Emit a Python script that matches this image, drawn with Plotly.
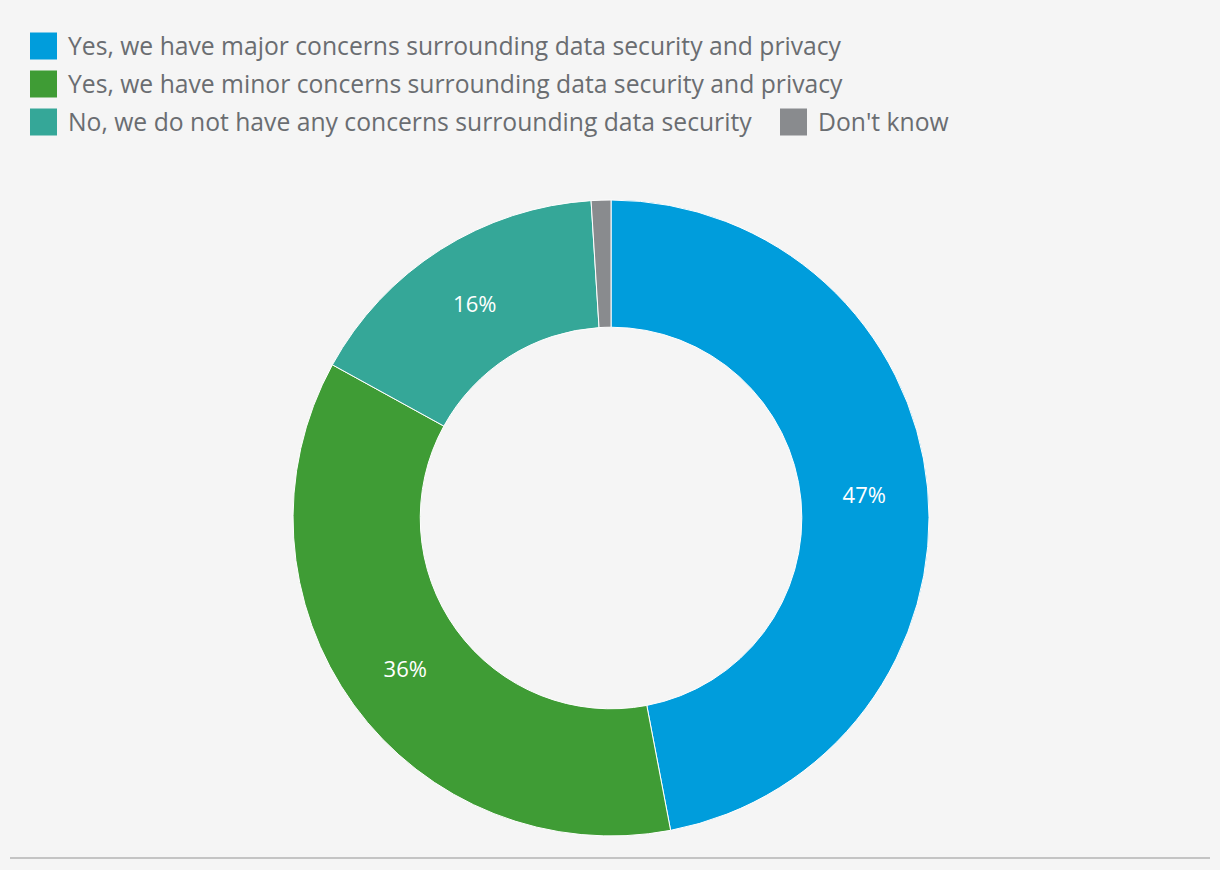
import plotly.graph_objects as go

labels = [
    "Yes, we have major concerns surrounding data security and privacy",
    "Yes, we have minor concerns surrounding data security and privacy",
    "No, we do not have any concerns surrounding data security",
    "Don't know",
]
values = [47, 36, 16, 1]
colors = ["#009ddc", "#3f9c35", "#35a798", "#898b8e"]

W, H = 1220, 870
FONT = "Open Sans"
TXT = "#6a6d71"

texts = [f"{v}%" if v >= 5 else "" for v in values]

fig = go.Figure()
fig.add_trace(go.Pie(
    labels=labels, values=values, text=texts,
    textinfo="text", textposition="inside", insidetextorientation="horizontal",
    textfont=dict(family=FONT, size=22, color="white"),
    marker=dict(colors=colors, line=dict(color="white", width=1)),
    hole=0.6, sort=False, direction="clockwise", rotation=0,
    domain=dict(x=[0.2402, 0.7615], y=[0.0391, 0.7701]),
    showlegend=False, hoverinfo="label+percent",
))

# custom legend (square swatches + labels)
legend_rows = [(30, 46), (30, 84), (30, 122), (780, 122)]
shapes = []
annotations = []
for (x0, yc), lab, col in zip(legend_rows, labels, colors):
    shapes.append(dict(type="rect", xref="paper", yref="paper",
                       x0=x0 / W, x1=(x0 + 27) / W,
                       y0=1 - (yc + 13.5) / H, y1=1 - (yc - 13.5) / H,
                       fillcolor=col, line=dict(width=0)))
    annotations.append(dict(x=(x0 + 36) / W, y=1 - yc / H, xref="paper", yref="paper",
                            text=lab, showarrow=False, xanchor="left", yanchor="middle",
                            font=dict(family=FONT, size=24.7, color=TXT)))

# bottom rule
shapes.append(dict(type="line", xref="paper", yref="paper",
                   x0=10 / W, x1=1210 / W, y0=1 - 858 / H, y1=1 - 858 / H,
                   line=dict(color="#c4c4c4", width=2)))

fig.update_layout(
    width=W, height=H,
    margin=dict(l=0, r=0, t=0, b=0),
    paper_bgcolor="#f5f5f5", plot_bgcolor="#f5f5f5",
    shapes=shapes, annotations=annotations,
    font=dict(family=FONT, color=TXT),
)

fig.write_html("out.html")
